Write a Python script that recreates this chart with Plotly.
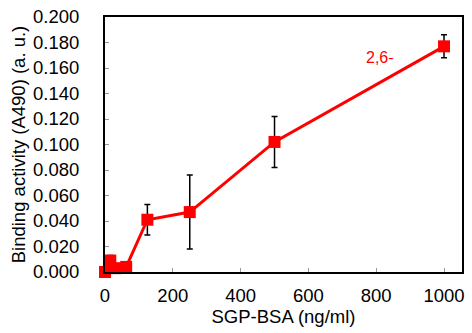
import plotly.graph_objects as go

conc = [0, 15.6, 31.25, 62.5, 125, 250, 500, 1000]
activity = [0.000, 0.009, 0.003, 0.004, 0.041, 0.047, 0.102, 0.177]
err = [0.001, 0.004, 0.002, 0.002, 0.012, 0.029, 0.020, 0.009]
x_ticks = [0, 200, 400, 600, 800, 1000]
y_ticks = [0.0, 0.02, 0.04, 0.06, 0.08, 0.10, 0.12, 0.14, 0.16, 0.18, 0.20]
label_text = "2,6-"

FS = 18.5
fig = go.Figure()
fig.add_trace(go.Scatter(
    x=conc, y=activity, mode="lines+markers",
    line=dict(color="#ff0000", width=3),
    marker=dict(symbol="square", size=12, color="#ff0000"),
    error_y=dict(type="data", array=err, visible=True, color="black", thickness=1.5, width=3),
    showlegend=False, cliponaxis=False,
))
fig.add_annotation(x=811, y=0.168, text=label_text, showarrow=False,
                   font=dict(color="#ff0000", size=16, family="Liberation Sans, Arial"))

fig.update_layout(
    width=472, height=333,
    margin=dict(l=105, r=10, t=17, b=61),
    plot_bgcolor="white", paper_bgcolor="white",
    font=dict(family="Liberation Sans, Arial", size=FS, color="black"),
    xaxis=dict(range=[0, 1053], tickvals=x_ticks, ticks="inside", ticklen=4, tickcolor="#999",
               showline=True, linecolor="black", linewidth=2, mirror=True, showgrid=False,
               zeroline=False, ticklabelstandoff=6, automargin=False,
               title=dict(text="SGP-BSA (ng/ml)", standoff=4, font=dict(size=FS))),
    yaxis=dict(range=[0, 0.2], tickvals=y_ticks, tickformat=".3f", ticks="inside", ticklen=4,
               tickcolor="#999", showline=True, linecolor="black", linewidth=2, mirror=True,
               showgrid=False, zeroline=False, ticklabelstandoff=20, automargin=False,
               title=dict(text="Binding activity (A490) (a. u.)", standoff=3, font=dict(size=FS))),
)
fig.write_html("out.html")
